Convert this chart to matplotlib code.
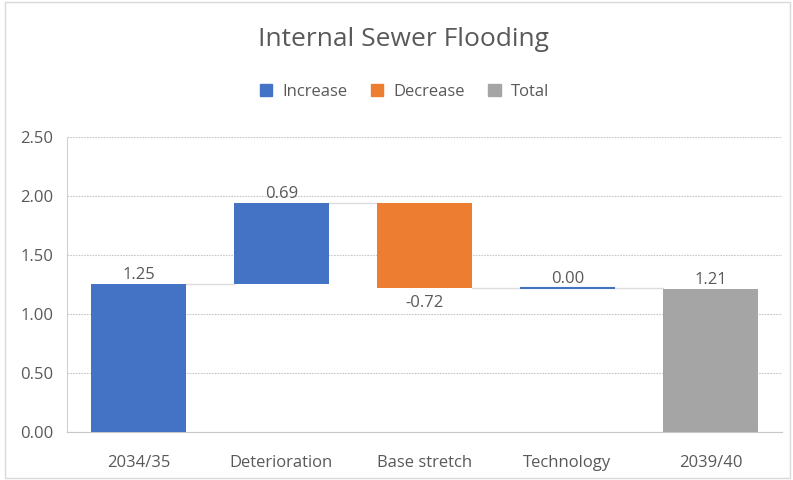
"""Waterfall: Internal Sewer Flooding."""

import matplotlib.pyplot as plt
from matplotlib.patches import Patch, Rectangle

CATEGORIES = ["2034/35", "Deterioration", "Base stretch", "Technology", "2039/40"]
VALUES = [1.25, 0.69, -0.72, 0.00, 1.21]
KINDS = ["increase", "increase", "decrease", "increase", "total"]

COLOURS = {
    "increase": "#4472C4",
    "decrease": "#ED7D31",
    "total": "#A5A5A5",
}
TEXT = "#595959"

plt.rcParams["font.family"] = ["Open Sans", "DejaVu Sans"]

fig = plt.figure(figsize=(7.93, 4.80), dpi=100)
fig.patches.append(
    Rectangle((0.006, 0.004), 0.99, 0.992, transform=fig.transFigure,
              fill=False, edgecolor="#D9D9D9", linewidth=1)
)
ax = fig.add_axes([0.0845, 0.1, 0.9015, 0.6146])

bottoms = []
heights = []
level = 0.0
for value, kind in zip(VALUES, KINDS):
    if kind == "total":
        bottoms.append(0.0)
        heights.append(value)
        level = value
    elif value >= 0:
        bottoms.append(level)
        heights.append(value)
        level += value
    else:
        bottoms.append(level + value)
        heights.append(-value)
        level += value

x = range(len(CATEGORIES))
width = 0.66
for i, (b, h, kind, value) in enumerate(zip(bottoms, heights, KINDS, VALUES)):
    colour = COLOURS[kind]
    ax.bar(i, h, bottom=b, width=width, color=colour,
           edgecolor=colour if h == 0 else "none",
           linewidth=1.5 if h == 0 else 0, zorder=3)
    if value < 0:
        ax.annotate(f"{value:.2f}", (i, b), xytext=(0, -5),
                    textcoords="offset points", ha="center", va="top",
                    fontsize=12, color=TEXT)
    else:
        ax.annotate(f"{value:.2f}", (i, b + h), xytext=(0, 1),
                    textcoords="offset points", ha="center", va="bottom",
                    fontsize=12, color=TEXT)

# connector lines between bars
tops = []
for b, h, value, kind in zip(bottoms, heights, VALUES, KINDS):
    if kind == "total" or value >= 0:
        tops.append(b + h)
    else:
        tops.append(b)
for i in range(len(CATEGORIES) - 1):
    ax.plot([i + width / 2, i + 1 - width / 2], [tops[i], tops[i]],
            color="#DCDCDC", linewidth=1, zorder=2)

ax.set_xlim(-0.5, len(CATEGORIES) - 0.5)
ax.set_ylim(0, 2.5)
ax.set_yticks([0, 0.5, 1.0, 1.5, 2.0, 2.5])
ax.set_yticklabels([f"{t:.2f}" for t in ax.get_yticks()])
ax.set_xticks(list(x))
ax.set_xticklabels(CATEGORIES)
ax.tick_params(colors=TEXT, labelsize=12, length=0)
ax.tick_params(axis="x", pad=16.5)
ax.tick_params(axis="y", pad=10)
ax.grid(axis="y", color="#C8C8C8", linestyle=(0, (1.5, 1)), linewidth=0.8,
        zorder=0)
for side in ["top", "right"]:
    ax.spines[side].set_visible(False)
ax.spines["left"].set_color("#D0D0D0")
ax.spines["left"].set_linestyle((0, (1.5, 1)))
ax.spines["bottom"].set_color("#C8C8C8")
ax.spines["bottom"].set_linestyle((0, (1.5, 1)))

fig.text(0.509, 0.918, "Internal Sewer Flooding", ha="center", va="center",
         fontsize=19, color=TEXT)

handles = [Patch(color=COLOURS[k]) for k in ["increase", "decrease", "total"]]
fig.legend(handles, ["Increase", "Decrease", "Total"], loc="center",
           bbox_to_anchor=(0.51, 0.808), ncol=3, frameon=False,
           fontsize=12, labelcolor=TEXT, handlelength=0.75, handleheight=0.75,
           handletextpad=0.6, columnspacing=1.4)

fig.savefig("out.png", dpi=100)
